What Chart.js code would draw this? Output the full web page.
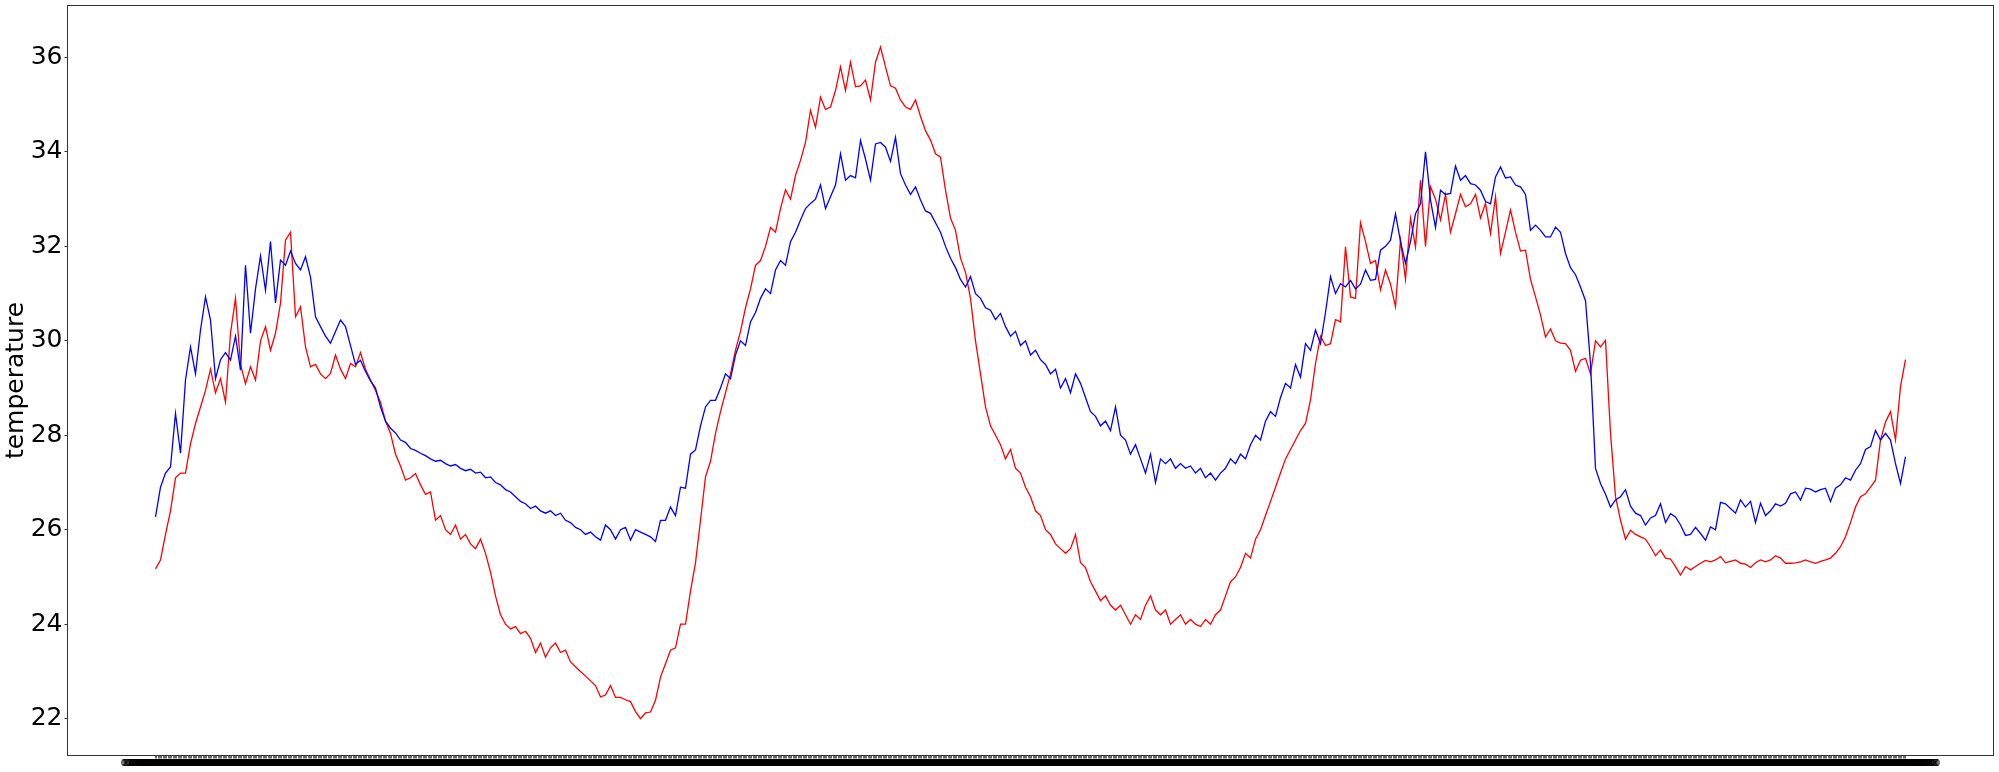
<!DOCTYPE html>
<html><head><meta charset="utf-8">
<script src="https://cdn.jsdelivr.net/npm/chart.js@4.4.0/dist/chart.umd.min.js"></script>
<style>html,body{margin:0;padding:0;background:#fff;}canvas{display:block;}</style>
</head><body>
<canvas id="c" width="1999" height="772"></canvas>
<script>
const redSeries = [
25.17,25.36,25.9,26.4,27.1,27.2,27.2,27.82,28.25,28.6,
28.95,29.4,28.9,29.2,28.7,30.16,30.9,29.5,29.09,29.45,
29.17,30.0,30.3,29.8,30.16,30.8,32.13,32.3,30.51,30.72,
29.87,29.45,29.5,29.3,29.2,29.31,29.7,29.4,29.2,29.52,
29.45,29.75,29.4,29.17,28.95,28.7,28.3,28.04,27.6,27.35,
27.05,27.1,27.19,26.95,26.75,26.8,26.2,26.3,26.0,25.9,
26.1,25.8,25.9,25.7,25.6,25.8,25.5,25.1,24.6,24.2,
24.0,23.9,23.95,23.8,23.85,23.7,23.4,23.6,23.3,23.5,
23.6,23.4,23.45,23.2,23.1,23.0,22.9,22.8,22.7,22.46,
22.5,22.7,22.45,22.45,22.4,22.36,22.15,22.0,22.12,22.14,
22.39,22.88,23.16,23.45,23.5,24.0,24.0,24.7,25.3,26.2,
27.12,27.45,28.04,28.5,28.9,29.3,29.8,30.2,30.7,31.1,
31.6,31.7,32.0,32.4,32.3,32.8,33.2,33.0,33.5,33.82,
34.2,34.88,34.52,35.16,34.9,34.95,35.3,35.8,35.3,35.9,
35.38,35.4,35.52,35.1,35.9,36.22,35.8,35.4,35.35,35.1,
34.95,34.9,35.1,34.75,34.45,34.25,33.96,33.89,33.19,32.6,
32.34,31.75,31.45,30.9,30.0,29.3,28.6,28.2,28.0,27.8,
27.5,27.7,27.3,27.2,26.9,26.7,26.4,26.3,26.0,25.9,
25.7,25.6,25.5,25.6,25.9,25.3,25.2,24.9,24.7,24.5,
24.6,24.4,24.3,24.4,24.2,24.0,24.2,24.1,24.4,24.6,
24.3,24.2,24.3,24.0,24.1,24.2,24.0,24.1,24.0,23.95,
24.1,24.0,24.2,24.3,24.6,24.9,25.0,25.2,25.5,25.4,
25.8,26.0,26.3,26.6,26.9,27.2,27.5,27.7,27.9,28.1,
28.25,28.75,29.52,30.1,29.9,29.94,30.45,30.4,31.99,30.93,
30.9,32.5,32.1,31.64,31.7,31.08,31.5,31.2,30.72,32.13,
31.3,32.6,31.99,33.4,32.0,33.26,33.0,32.56,33.1,32.3,
32.69,33.1,32.84,32.9,33.1,32.6,32.91,32.27,33.05,31.85,
32.3,32.77,32.3,31.9,31.92,31.3,30.93,30.55,30.08,30.25,
30.0,29.95,29.94,29.8,29.35,29.59,29.63,29.3,30.0,29.87,
30.01,28.04,26.7,26.2,25.8,25.99,25.9,25.85,25.8,25.64,
25.45,25.57,25.4,25.38,25.22,25.04,25.22,25.15,25.22,25.29,
25.35,25.32,25.36,25.43,25.3,25.33,25.36,25.29,25.27,25.2,
25.3,25.36,25.32,25.36,25.45,25.4,25.29,25.29,25.3,25.32,
25.36,25.32,25.29,25.33,25.36,25.4,25.5,25.64,25.85,26.15,
26.48,26.7,26.76,26.9,27.05,27.9,28.28,28.5,27.9,29.03,
29.6
];
const blueSeries = [
26.27,26.9,27.2,27.33,28.46,27.62,29.17,29.87,29.3,30.23,
30.93,30.44,29.2,29.6,29.75,29.59,30.1,29.38,31.6,30.16,
31.1,31.8,31.07,32.1,30.8,31.71,31.6,31.9,31.64,31.5,
31.78,31.35,30.51,30.3,30.1,29.95,30.2,30.44,30.3,29.9,
29.5,29.59,29.35,29.15,29.0,28.6,28.3,28.15,28.05,27.9,
27.85,27.72,27.68,27.62,27.57,27.5,27.45,27.47,27.4,27.35,
27.38,27.3,27.25,27.28,27.2,27.22,27.1,27.12,27.0,26.95,
26.85,26.8,26.7,26.6,26.55,26.45,26.5,26.4,26.35,26.4,
26.3,26.35,26.2,26.15,26.05,26.0,25.9,25.95,25.85,25.78,
26.1,26.0,25.8,26.0,26.05,25.78,26.0,25.95,25.9,25.85,
25.75,26.2,26.2,26.48,26.3,26.9,26.88,27.6,27.69,28.2,
28.6,28.74,28.74,29.0,29.3,29.2,29.7,30.0,29.9,30.4,
30.6,30.9,31.1,31.0,31.5,31.7,31.6,32.1,32.3,32.56,
32.8,32.91,33.0,33.3,32.8,33.05,33.3,33.96,33.4,33.5,
33.45,34.24,33.85,33.4,34.17,34.2,34.1,33.8,34.31,33.54,
33.3,33.1,33.26,32.98,32.75,32.7,32.5,32.3,32.0,31.75,
31.55,31.3,31.14,31.36,31.0,30.9,30.7,30.65,30.45,30.58,
30.3,30.1,30.2,29.9,30.0,29.7,29.8,29.6,29.5,29.3,
29.4,29.0,29.2,28.9,29.3,29.1,28.8,28.5,28.4,28.2,
28.3,28.1,28.6,28.0,27.9,27.6,27.8,27.5,27.2,27.6,
27.0,27.5,27.4,27.5,27.3,27.4,27.3,27.35,27.2,27.3,
27.1,27.2,27.05,27.2,27.3,27.5,27.4,27.6,27.5,27.8,
28.0,27.9,28.3,28.5,28.4,28.8,29.1,29.0,29.5,29.23,
29.94,29.8,30.23,29.94,30.6,31.36,31.0,31.21,31.14,31.28,
31.1,31.2,31.5,31.28,31.3,31.92,32.0,32.13,32.69,32.1,
31.64,32.1,32.69,32.9,34.0,32.98,32.4,33.19,33.1,33.12,
33.7,33.4,33.5,33.33,33.3,33.19,32.95,32.9,33.47,33.68,
33.45,33.47,33.3,33.26,33.1,32.34,32.45,32.34,32.2,32.2,
32.41,32.3,31.85,31.55,31.4,31.14,30.85,29.52,27.3,26.98,
26.75,26.48,26.63,26.7,26.85,26.5,26.35,26.3,26.1,26.25,
26.3,26.55,26.15,26.34,26.27,26.1,25.88,25.9,26.05,25.92,
25.78,26.06,26.0,26.58,26.55,26.45,26.35,26.63,26.48,26.6,
26.15,26.56,26.3,26.4,26.55,26.5,26.56,26.76,26.8,26.63,
26.88,26.86,26.8,26.85,26.88,26.6,26.88,26.95,27.1,27.05,
27.26,27.4,27.7,27.76,28.1,27.9,28.04,27.9,27.4,26.98,
27.55
];
const yTickValues = [22, 24, 26, 28, 30, 32, 34, 36];
const yAxisTitle = 'temperature';

// x tick labels: one timestamp every 150 s (4 per plotted sample, every 600 s)
const ticksPerSample = 4;
const timeLabels = [];
(function () {
  const t0 = Date.UTC(2021, 6, 1, 0, 0, 0);
  const p = n => String(n).padStart(2, '0');
  const count = (redSeries.length - 1) * ticksPerSample + 1;
  for (let k = 0; k < count; k++) {
    const d = new Date(t0 + k * 150000);
    timeLabels.push(p(d.getUTCMonth() + 1) + '-' + p(d.getUTCDate()) + ' ' +
      p(d.getUTCHours()) + ':' + p(d.getUTCMinutes()) + ':' + p(d.getUTCSeconds()));
  }
})();

const n = redSeries.length;

const framePlugin = {
  id: 'frame',
  afterDraw(chart) {
    const a = chart.chartArea, ctx = chart.ctx;
    ctx.save();
    ctx.strokeStyle = '#333';
    ctx.lineWidth = 1;
    ctx.strokeRect(a.left - 0.5, a.top - 0.5, a.right - a.left + 1, a.bottom - a.top + 1);
    ctx.restore();
  }
};

new Chart(document.getElementById('c'), {
  type: 'line',
  data: {
    datasets: [
      { label: 'blue', data: blueSeries.map((v, i) => ({ x: i, y: v })), borderColor: '#0000ff',
        borderWidth: 1.3, pointRadius: 0, tension: 0, fill: false },
      { label: 'red', data: redSeries.map((v, i) => ({ x: i, y: v })), borderColor: '#ff0000',
        borderWidth: 1.3, pointRadius: 0, tension: 0, fill: false }
    ]
  },
  options: {
    responsive: false,
    animation: false,
    devicePixelRatio: 1,
    layout: { padding: { left: 0, right: 6, top: 6, bottom: 0 } },
    plugins: { legend: { display: false }, tooltip: { enabled: false } },
    scales: {
      x: {
        type: 'linear',
        min: -0.05 * (n - 1),
        max: 1.05 * (n - 1),
        border: { display: false },
        grid: { drawOnChartArea: false, drawTicks: true, tickLength: 3.5, color: '#000', lineWidth: 0.6 },
        ticks: {
          autoSkip: false, maxRotation: 0, minRotation: 0, padding: 0, color: '#000',
          font: { family: 'DejaVu Sans', size: 9 },
          callback: (v, idx) => timeLabels[idx]
        },
        afterBuildTicks: (s) => { s.ticks = timeLabels.map((_, k) => ({ value: k / ticksPerSample })); },
        afterFit: (s) => { s.height = 17; s.paddingLeft = 0; s.paddingRight = 0; }
      },
      y: {
        min: 21.23,
        max: 37.09,
        border: { display: false },
        grid: { drawOnChartArea: false, drawTicks: true, tickLength: 3.5, color: '#000', lineWidth: 0.8 },
        ticks: { padding: 2, color: '#000', font: { family: 'DejaVu Sans', size: 25 } },
        afterBuildTicks: (s) => { s.ticks = yTickValues.map(v => ({ value: v })); },
        afterFit: (s) => { s.width = 68; s.paddingTop = 0; s.paddingBottom = 0; },
        title: {
          display: true, text: yAxisTitle, color: '#000',
          font: { family: 'DejaVu Sans', size: 25, lineHeight: 1.2 },
          padding: { top: 1, bottom: 0 }
        }
      }
    }
  },
  plugins: [framePlugin]
});
</script>
</body></html>
